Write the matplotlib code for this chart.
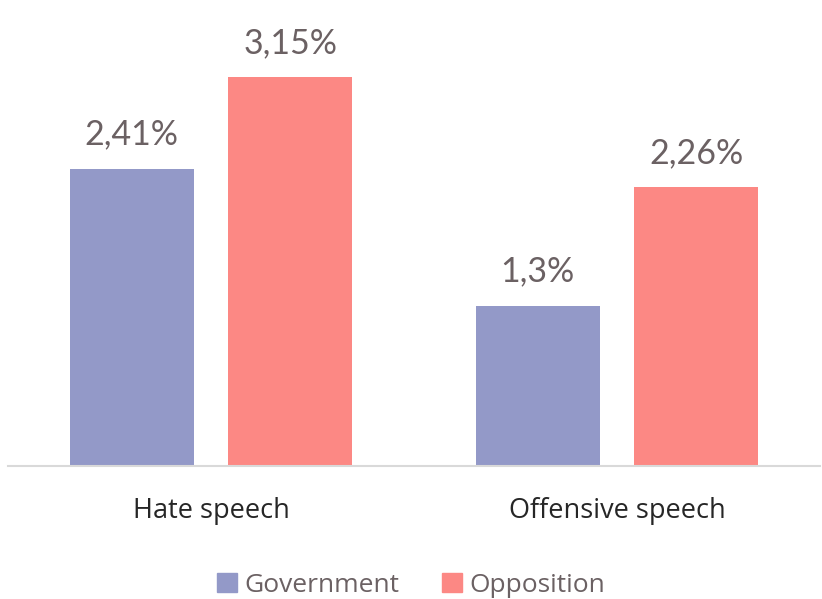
import matplotlib

matplotlib.use("Agg")
import matplotlib.pyplot as plt
from matplotlib.patches import Patch

categories = ["Hate speech", "Offensive speech"]
series_names = ["Government", "Opposition"]
government = [2.41, 1.30]
opposition = [3.15, 2.26]
government_labels = ["2,41%", "1,3%"]
opposition_labels = ["3,15%", "2,26%"]

COLOR_GOV = "#9399c8"
COLOR_OPP = "#fc8884"
TEXT_GREY = "#6b6163"

fig = plt.figure(figsize=(8.22, 5.99), dpi=100)
ax = fig.add_axes([8 / 822, 133 / 599, 812 / 822, 432 / 599])

width = 0.305
offset = 0.195
positions = range(len(categories))
bars_g = ax.bar([p - offset for p in positions], government, width, color=COLOR_GOV)
bars_o = ax.bar([p + offset for p in positions], opposition, width, color=COLOR_OPP)

for bars, labels in ((bars_g, government_labels), (bars_o, opposition_labels)):
    for bar, lab in zip(bars, labels):
        ax.annotate(
            lab,
            (bar.get_x() + bar.get_width() / 2, bar.get_height()),
            xytext=(0, 13),
            textcoords="offset points",
            ha="center",
            va="bottom",
            fontsize=24.5,
            fontfamily="Lato",
            color=TEXT_GREY,
        )

ax.set_xlim(-0.5, 1.5)
ax.set_ylim(0, 3.5)
ax.set_yticks([])
ax.set_xticks(list(positions))
ax.set_xticklabels(categories, fontsize=19.5, fontfamily="Open Sans", color="#262626")
ax.tick_params(axis="x", length=0, pad=22)
for side in ("top", "right", "left"):
    ax.spines[side].set_visible(False)
ax.spines["bottom"].set_color("#d9d9d9")
ax.spines["bottom"].set_linewidth(1.5)

handles = [Patch(color=COLOR_GOV), Patch(color=COLOR_OPP)]
fig.legend(
    handles,
    series_names,
    loc="center",
    bbox_to_anchor=(0.5, 1 - 585 / 599),
    ncol=2,
    frameon=False,
    handlelength=0.75,
    handleheight=0.75,
    handletextpad=0.3,
    columnspacing=1.6,
    prop={"family": "Open Sans", "size": 19},
    labelcolor=TEXT_GREY,
)

fig.savefig("out.png", dpi=100)
